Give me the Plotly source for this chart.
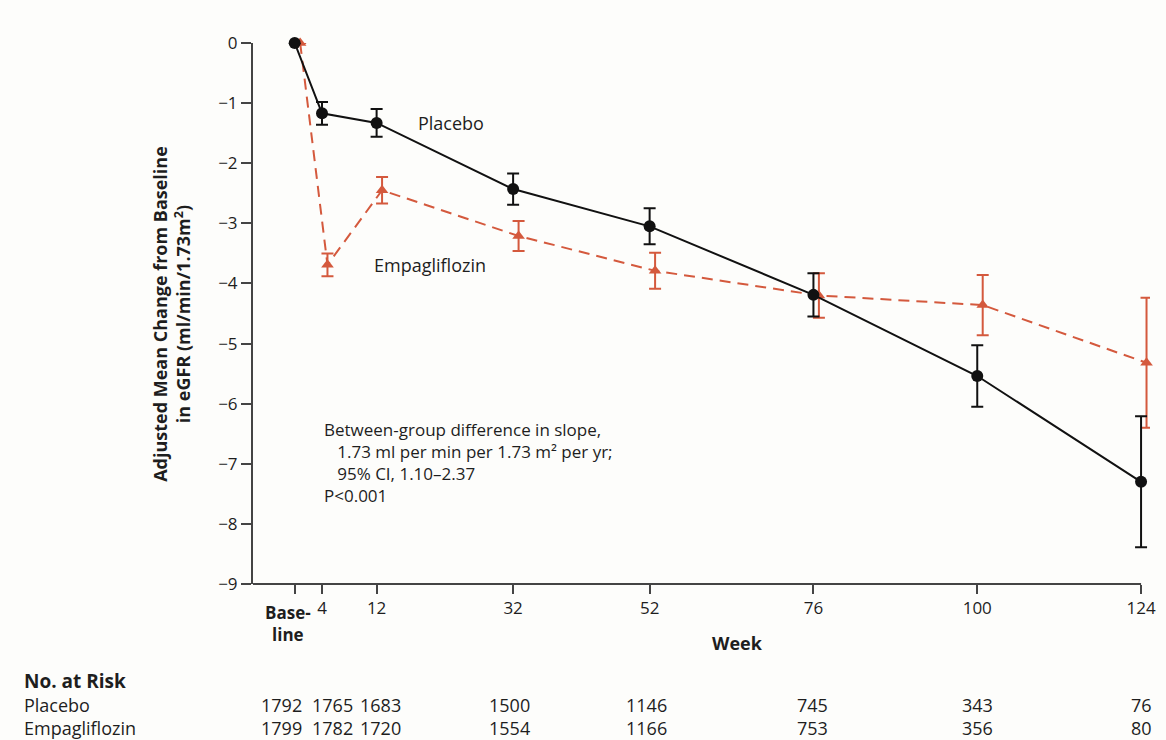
import plotly.graph_objects as go

weeks = [0, 4, 12, 32, 52, 76, 100, 124]
tick_labels = ["", "4", "12", "32", "52", "76", "100", "124"]
baseline_label = "<b>Base-<br>line</b>"

placebo_mean = [0, -1.17, -1.33, -2.43, -3.05, -4.19, -5.54, -7.30]
placebo_ci = [0, 0.19, 0.23, 0.26, 0.30, 0.36, 0.51, 1.09]

empa_mean = [0, -3.69, -2.45, -3.21, -3.79, -4.20, -4.36, -5.32]
empa_ci = [0, 0.19, 0.22, 0.25, 0.30, 0.37, 0.50, 1.08]

risk_placebo = [1792, 1765, 1683, 1500, 1146, 745, 343, 76]
risk_empa = [1799, 1782, 1720, 1554, 1166, 753, 356, 80]

y_ticks = [0, -1, -2, -3, -4, -5, -6, -7, -8, -9]

FONT = "Open Sans"
BLACK = "#111111"
TXT = "#1e1e1e"
AXIS = "#444444"
RED = "#d4593d"
DODGE = 0.8  # small horizontal dodge for the empagliflozin series (weeks)
X_MIN, X_MAX = -6.11, 125.31

fig = go.Figure()

fig.add_trace(go.Scatter(
    x=[w + DODGE for w in weeks], y=empa_mean,
    mode="lines+markers",
    line=dict(color=RED, width=2, dash="11px,7px"),
    marker=dict(symbol="triangle-up", size=11, color=RED),
    error_y=dict(type="data", array=empa_ci, color=RED, thickness=2, width=6),
    cliponaxis=False, showlegend=False,
))
fig.add_trace(go.Scatter(
    x=weeks, y=placebo_mean,
    mode="lines+markers",
    line=dict(color=BLACK, width=2),
    marker=dict(symbol="circle", size=12, color=BLACK),
    error_y=dict(type="data", array=placebo_ci, color=BLACK, thickness=2, width=6),
    cliponaxis=False, showlegend=False,
))

fig.update_layout(
    width=1166, height=740,
    margin=dict(l=253, r=10, t=43, b=156),
    paper_bgcolor="#fdfdfb", plot_bgcolor="#fdfdfb",
    font=dict(family=FONT, size=17, color=TXT),
    xaxis=dict(
        range=[X_MIN, X_MAX], showgrid=False, zeroline=False, showline=False,
        ticks="outside", ticklen=9, tickwidth=1.5, tickcolor=AXIS,
        tickvals=weeks, ticktext=tick_labels, tickangle=0,
        tickfont=dict(size=17, color=TXT),
    ),
    yaxis=dict(
        range=[-9, 0], showgrid=False, zeroline=False,
        showline=True, linecolor=AXIS, linewidth=2,
        ticks="outside", ticklen=10, tickwidth=1.5, tickcolor=AXIS,
        tickvals=y_ticks, ticktext=[str(v).replace("-", "\u2212") for v in y_ticks],
        tickfont=dict(size=17, color=TXT),
    ),
)

# x-axis line ends at the last week tick
fig.add_shape(type="line", xref="x", yref="paper", x0=X_MIN, x1=weeks[-1], y0=0, y1=0,
              line=dict(color=AXIS, width=2), layer="above")

ann = []
# baseline tick label
ann.append(dict(
    xref="x", yref="paper", x=weeks[0], y=-0.028, xanchor="center", yanchor="top",
    xshift=-7, text=baseline_label, showarrow=False, font=dict(size=17, color=TXT),
))
# y-axis title
ann.append(dict(
    xref="paper", yref="paper", x=-0.091, y=0.5, xanchor="center", yanchor="middle",
    text="<b>Adjusted Mean Change from Baseline<br>in eGFR (ml/min/1.73m<sup>2</sup>)</b>",
    textangle=-90, showarrow=False, font=dict(size=18, color=TXT),
))
# x-axis title
ann.append(dict(
    xref="paper", yref="paper", x=0.540, y=-0.109, xanchor="center", yanchor="middle",
    text="<b>Week</b>", showarrow=False, font=dict(size=18, color=TXT),
))
# series labels
ann.append(dict(xref="paper", yref="y", x=0.1816, y=-1.33, xanchor="left", yanchor="middle",
                text="Placebo", showarrow=False, font=dict(size=18)))
ann.append(dict(xref="paper", yref="y", x=0.1329, y=-3.70, xanchor="left", yanchor="middle",
                text="Empagliflozin", showarrow=False, font=dict(size=18)))
# stats text
IND = "\u00a0" * 3
stats_text = ("Between-group difference in slope,<br>"
              + IND + "1.73 ml per min per 1.73 m\u00b2 per yr;<br>"
              + IND + "95% CI, 1.10\u20132.37<br>"
              + "P<0.001")
ann.append(dict(xref="paper", yref="y", x=0.0764, y=-6.98, xanchor="left", yanchor="middle",
                align="left", text=stats_text, showarrow=False, font=dict(size=17)))

# risk table
ann.append(dict(xref="paper", yref="paper", x=-0.258, y=-0.179, xanchor="left", yanchor="middle",
                text="<b>No. at Risk</b>", showarrow=False, font=dict(size=19)))
ann.append(dict(xref="paper", yref="paper", x=-0.258, y=-0.2237, xanchor="left", yanchor="middle",
                text="Placebo", showarrow=False, font=dict(size=18)))
ann.append(dict(xref="paper", yref="paper", x=-0.258, y=-0.266, xanchor="left", yanchor="middle",
                text="Empagliflozin", showarrow=False, font=dict(size=18)))
col_shift = [-13, 10, 4, -4, -3, -1, 0, 0]
for i, w in enumerate(weeks):
    ann.append(dict(xref="x", yref="paper", x=w, y=-0.2237, xanchor="center", yanchor="middle",
                    xshift=col_shift[i], text=str(risk_placebo[i]), showarrow=False, font=dict(size=18)))
    ann.append(dict(xref="x", yref="paper", x=w, y=-0.266, xanchor="center", yanchor="middle",
                    xshift=col_shift[i], text=str(risk_empa[i]), showarrow=False, font=dict(size=18)))

fig.update_layout(annotations=ann)
fig.write_html(
    "out.html",
    config={"displayModeBar": False},
    post_script="document.body.style.margin='0px';document.body.style.overflow='hidden';",
)
